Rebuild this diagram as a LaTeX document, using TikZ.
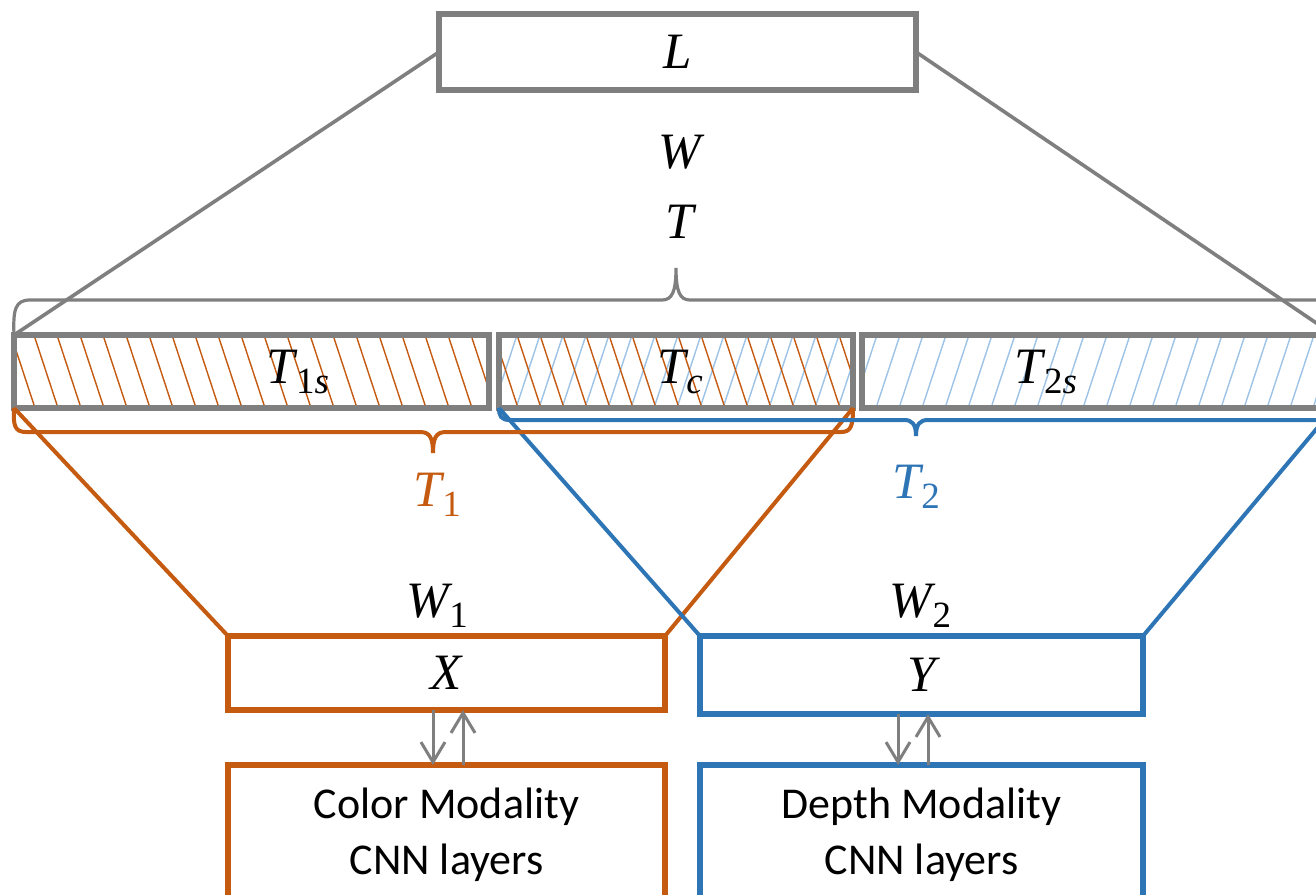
\documentclass[tikz,border=0pt]{standalone}
\usepackage[no-math]{fontspec}
\newfontfamily\calibri{Carlito}
\newfontfamily\lbs{Liberation Serif}
\usetikzlibrary{arrows.meta,backgrounds,calc}
\definecolor{og}{HTML}{C55A11}
\definecolor{bl}{HTML}{2E75B6}
\definecolor{gr}{HTML}{7F7F7F}
\definecolor{lb}{HTML}{9DC3E6}
% italic variable with optional subscript (digits upright, letters italic)
\newcommand\mv[2]{{\lbs\fontsize{25.5}{28}\selectfont\itshape #1}\ifx&#2&\else\kern0.5pt\raisebox{-5pt}{\lbs\fontsize{18.5}{20}\selectfont #2}\fi}
\begin{document}
\begin{tikzpicture}[x=0.5pt,y=-0.5pt,
  box/.style={draw, line width=2.6pt, outer sep=0pt, inner sep=0pt, text=black},
  modbox/.style={draw, line width=3pt, outer sep=0pt, inner sep=0pt, text=black, align=center, font=\calibri\fontsize{22}{28}\selectfont},
  lab/.style={inner sep=0pt},
  diag/.style={line width=2pt},
  brc/.style={line width=2pt},
  hat/.style={line width=0.7pt},
  arr/.style={gr, line width=1.5pt, -{Straight Barb[length=10pt,width=12pt]}}]
\clip (0,0) rectangle (1316,894);

% boxes
\node[box, draw=gr, minimum width=238.5pt, minimum height=38pt] (L) at (677.5,52) {};
\node[box, draw=gr, minimum width=237.5pt, minimum height=36.5pt] (T1s) at (251.5,371.5) {};
\node[box, draw=gr, minimum width=177pt, minimum height=36.5pt] (Tc) at (676,371.5) {};
\node[box, draw=gr, minimum width=236pt, minimum height=36.5pt] (T2s) at (1098,371.5) {};
\node[box, draw=og, minimum width=218.5pt, minimum height=37pt] (X) at (446.5,673) {\mv{X}{}};
\node[box, draw=bl, minimum width=221.5pt, minimum height=39pt] (Y) at (921.5,675) {\mv{Y}{}};
\node[modbox, draw=og, minimum width=218.5pt, minimum height=70pt] (C) at (446.5,835) {Color Modality\\CNN layers};
\node[modbox, draw=bl, minimum width=221.5pt, minimum height=70pt] (D) at (921.5,835) {Depth Modality\\CNN layers};

% hatching
\begin{scope}[on background layer]
  \fill[white] (0,0) rectangle (1316,894);
  \begin{scope}
    \clip (T1s.north west) rectangle (T1s.south east);
    \foreach \x in {-12,11,...,500} \draw[hat, og] (\x,335) -- ++(24,73);
  \end{scope}
  \begin{scope}
    \clip (Tc.north west) rectangle (Tc.south east);
    \foreach \x in {470,493,...,870} \draw[hat, lb] (\x,408) -- ++(24,-73);
    \foreach \x in {471,494,...,870} \draw[hat, og] (\x,335) -- ++(24,73);
  \end{scope}
  \begin{scope}
    \clip (T2s.north west) rectangle (T2s.south east);
    \foreach \x in {830,853,...,1350} \draw[hat, lb] (\x,408) -- ++(24,-73);
  \end{scope}
\end{scope}

% labels
\node[lab] (Ll) at (L.center) {\mv{L}{}};
\node[lab] (T1sl) at (298,372) {\mv{T}{1\itshape s}};
\node[lab] (Tcl) at (680,372) {\mv{T}{\itshape c}};
\node[lab] (T2sl) at (1046,372) {\mv{T}{2\itshape s}};
\node[lab] (W) at (680,152) {\mv{W}{}};
\node[lab] (T) at (680,222) {\mv{T}{}};
\node[lab, text=og] (T1) at (437,495) {\mv{T}{1}};
\node[lab, text=bl] (T2) at (916,487) {\mv{T}{2}};
\node[lab] (W1) at (437,606) {\mv{W}{1}};
\node[lab] (W2) at (920,606) {\mv{W}{2}};

% diagonals
\draw[diag, gr, line width=1.8pt] (L.west) -- (T1s.north west);
\draw[diag, gr, line width=1.8pt] (L.east) -- (T2s.north east);
\draw[diag, og] (T1s.south west) -- (X.north west);
\draw[diag, og] (Tc.south east) -- (X.north east);
\draw[diag, bl] (Tc.south west) -- (Y.north west);
\draw[diag, bl] (T2s.south east) -- (Y.north east);

% braces
\draw[brc, gr, line width=1.6pt] (T1s.north west) .. controls (13,310) and (15,300) .. (30,300) -- (662,300)
  .. controls (672,300) and (676,292) .. (676,268) .. controls (676,292) and (680,300) .. (690,300)
  -- (1318,300) .. controls (1332,300) and (1334,310) .. (T2s.north east);
\draw[brc, og] (T1s.south west) .. controls (13,426) and (15,432) .. (26,432) -- (420,432)
  .. controls (430,432) and (433,438) .. (433,453) .. controls (433,438) and (436,432) .. (446,432)
  -- (841,432) .. controls (851,432) and (853,426) .. (Tc.south east);
\draw[brc, bl] (Tc.south west) .. controls (499,416) and (501,420) .. (510,420) -- (904,420)
  .. controls (912,420) and (916,424) .. (916,436) .. controls (916,424) and (920,420) .. (928,420)
  -- (1322,420) .. controls (1332,420) and (1334,416) .. (T2s.south east);

% arrows
\draw[arr] ([xshift=-6.75pt]X.south) -- ([xshift=-6.75pt]C.north);
\draw[arr] ([xshift=8.25pt]C.north) -- ([xshift=8.25pt]X.south);
\draw[arr] ([xshift=-11.75pt]Y.south) -- ([xshift=-11.75pt]D.north);
\draw[arr] ([xshift=3.25pt]D.north) -- ([xshift=3.25pt]Y.south);
\end{tikzpicture}
\end{document}
